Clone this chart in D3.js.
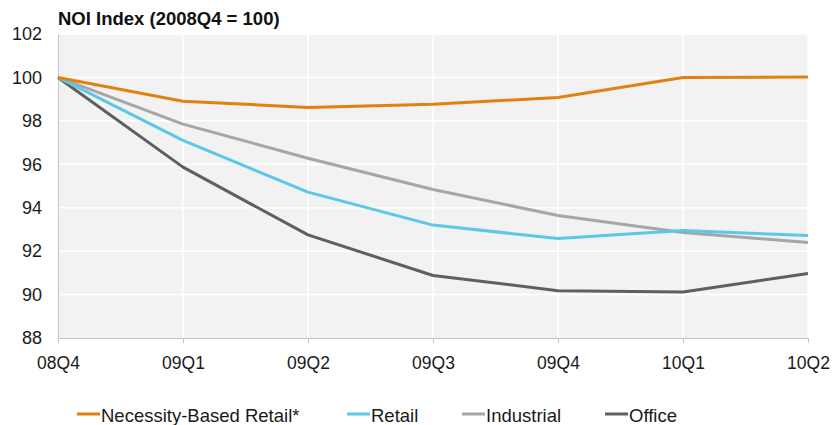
<!DOCTYPE html>
<html><head><meta charset="utf-8">
<script src="https://cdn.jsdelivr.net/npm/d3@7"></script>
<style>
body{margin:0;background:#fff;}
svg{display:block;font-family:"Liberation Sans",Arial,sans-serif;}
</style></head><body>
<svg id="c" width="834" height="425"></svg>
<script>
const categories = ["08Q4","09Q1","09Q2","09Q3","09Q4","10Q1","10Q2"];
const yTicks = [88,90,92,94,96,98,100,102];
const seriesNames = ["Necessity-Based Retail*","Retail","Industrial","Office"];
const necessityRetail = [100, 98.9, 98.62, 98.76, 99.08, 100, 100.02];
const retail = [100, 97.1, 94.72, 93.2, 92.58, 92.95, 92.72];
const industrial = [100, 97.85, 96.28, 94.84, 93.64, 92.86, 92.4];
const office = [100, 95.87, 92.75, 90.88, 90.18, 90.12, 90.97];
const colors = ["#e0820e","#5bc8e8","#a6a6a6","#5f5f5f"];

const series = [necessityRetail, retail, industrial, office];
const svg = d3.select("#c");
const L=58, R=808, T=34, B=338;
const x = d3.scalePoint().domain(categories).range([L,R]);
const y = d3.scaleLinear().domain([88,102]).range([B,T]);

svg.append("rect").attr("x",L).attr("y",T).attr("width",R-L).attr("height",B-T).attr("fill","#f2f2f2");
svg.append("g").selectAll("line").data(yTicks.filter(d=>d>88)).join("line")
  .attr("x1",L).attr("x2",R).attr("y1",d=>y(d)).attr("y2",d=>y(d)).attr("stroke","#fff").attr("stroke-width",1.5);
svg.append("g").selectAll("line").data(categories.slice(1)).join("line")
  .attr("x1",d=>x(d)).attr("x2",d=>x(d)).attr("y1",T).attr("y2",B).attr("stroke","#fff").attr("stroke-width",1.5);

const xa = svg.append("g").attr("transform",`translate(0,${B})`)
  .call(d3.axisBottom(x).tickSize(5).tickPadding(14).tickSizeOuter(0));
xa.select(".domain").attr("stroke","#c4c4c4");
xa.selectAll(".tick line").attr("stroke","#c4c4c4");
xa.selectAll("text").attr("font-size",17.5).attr("fill","#1a1a1a").attr("font-family","inherit");

const ya = svg.append("g").attr("transform",`translate(${L},0)`)
  .call(d3.axisLeft(y).tickValues(yTicks).tickSize(0).tickPadding(16));
ya.select(".domain").attr("stroke","#c4c4c4");
ya.selectAll("text").attr("font-size",18).attr("fill","#1a1a1a").attr("font-family","inherit");

const line = d3.line().x((d,i)=>x(categories[i])).y(d=>y(d));
[3,2,1,0].forEach(k=>{
  svg.append("path").datum(series[k]).attr("d",line).attr("fill","none")
    .attr("stroke",colors[k]).attr("stroke-width",3).attr("stroke-linejoin","round");
});

svg.append("text").attr("x",58).attr("y",25).attr("font-size",18.5).attr("font-weight","bold")
  .attr("fill","#111").text("NOI Index (2008Q4 = 100)");

const legX = [77,347,462,605];
const lg = svg.append("g");
seriesNames.forEach((n,k)=>{
  lg.append("line").attr("x1",legX[k]).attr("x2",legX[k]+23).attr("y1",414).attr("y2",414)
    .attr("stroke",colors[k]).attr("stroke-width",3);
  lg.append("text").attr("x",legX[k]+24).attr("y",422).attr("font-size",18.5).attr("fill","#1a1a1a").text(n);
});
</script>
</body></html>
